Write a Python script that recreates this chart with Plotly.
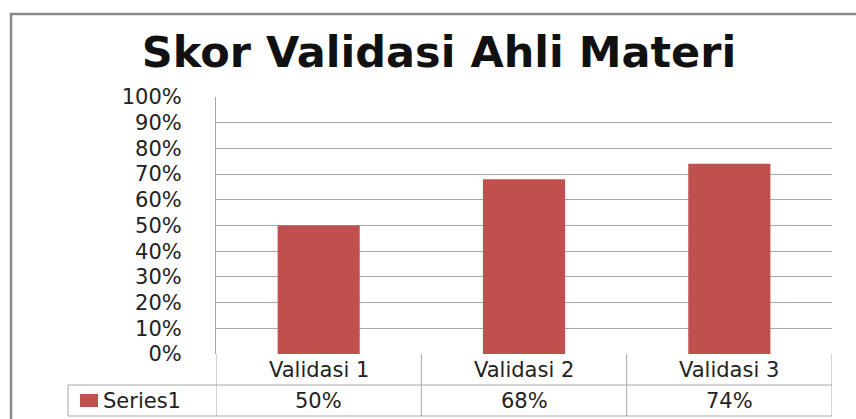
import plotly.graph_objects as go

categories = ["Validasi 1", "Validasi 2", "Validasi 3"]
values = [0.50, 0.68, 0.74]
series_name = "Series1"
title_text = "Skor Validasi Ahli Materi"
tick_vals = [i / 10 for i in range(11)]
tick_text = [f"{i * 10}%" for i in range(11)]

BAR_COLOR = "#C0504D"
GRID = "#A8A8A8"
FONT = "DejaVu Sans"

W, H = 856, 419
L, R, T, B = 216, 24, 97, 65
plot_h = H - T - B
plot_w = W - L - R

def py(pix):  # pixel y -> paper y
    return (H - B - pix) / plot_h

def px(pix):
    return (pix - L) / plot_w

fig = go.Figure()
fig.add_trace(go.Bar(x=categories, y=values, name=series_name,
                     marker=dict(color=BAR_COLOR, line=dict(width=0)),
                     width=0.4, showlegend=False, hoverinfo="skip"))

shapes = []
# outer chart border
shapes.append(dict(type="rect", xref="paper", yref="paper",
                   x0=px(11), x1=px(880), y0=py(440), y1=py(14),
                   line=dict(color="#8a8a8a", width=2.5), layer="below"))
# data table lines
row1_bot = py(385)
row2_bot = py(416)
n = len(categories)
bounds = [i - 0.5 for i in range(n + 1)]
shapes.append(dict(type="line", xref="x", yref="paper", x0=bounds[0], x1=bounds[-1],
                   y0=row1_bot, y1=row1_bot, line=dict(color=GRID, width=1)))
shapes.append(dict(type="line", xref="paper", yref="paper", x0=px(68), x1=0,
                   y0=row1_bot, y1=row1_bot, line=dict(color=GRID, width=1)))
shapes.append(dict(type="line", xref="paper", yref="paper", x0=px(68), x1=1,
                   y0=row2_bot, y1=row2_bot, line=dict(color=GRID, width=1)))
shapes.append(dict(type="line", xref="paper", yref="paper", x0=px(68), x1=px(68),
                   y0=row1_bot, y1=row2_bot, line=dict(color=GRID, width=1)))
for b in bounds:
    shapes.append(dict(type="line", xref="x", yref="paper", x0=b, x1=b,
                       y0=0, y1=row2_bot, line=dict(color=GRID, width=1)))
# legend key square
shapes.append(dict(type="rect", xref="paper", yref="paper",
                   x0=px(80), x1=px(98), y0=py(407), y1=py(394),
                   fillcolor=BAR_COLOR, line=dict(width=0)))

annotations = []
r1 = py(369.5)
r2 = py(400.5)
for c, v in zip(categories, values):
    annotations.append(dict(x=c, xref="x", y=r1, yref="paper", text=c,
                            showarrow=False, font=dict(family=FONT, size=21, color="#222"),
                            xanchor="center", yanchor="middle"))
    annotations.append(dict(x=c, xref="x", y=r2, yref="paper", text=f"{v:.0%}",
                            showarrow=False, font=dict(family=FONT, size=21, color="#222"),
                            xanchor="center", yanchor="middle"))
annotations.append(dict(x=px(101), xref="paper", y=r2, yref="paper", text=series_name,
                        showarrow=False, font=dict(family=FONT, size=21, color="#222"),
                        xanchor="left", yanchor="middle"))

fig.update_layout(
    width=W, height=H,
    margin=dict(l=L, r=R, t=T, b=B, autoexpand=False),
    paper_bgcolor="white", plot_bgcolor="white",
    title=dict(text=title_text, x=439 / W, xref="container", xanchor="center",
               y=1 - 52 / H, yref="container", yanchor="middle",
               font=dict(family=FONT, size=43, color="#111", weight="bold")),
    xaxis=dict(showticklabels=False, showgrid=False, zeroline=False,
               showline=False, ticks="", range=[-0.5, 2.5], fixedrange=True),
    yaxis=dict(range=[0, 1], tickvals=tick_vals, ticktext=tick_text,
               showgrid=True, gridcolor=GRID, gridwidth=1.3, zeroline=False,
               showline=True, linecolor=GRID, linewidth=1,
               ticks="outside", ticklen=29, tickcolor="rgba(0,0,0,0)",
               tickfont=dict(family=FONT, size=21, color="#222"), fixedrange=True),
    shapes=shapes, annotations=annotations,
    bargap=0.6,
)

fig.write_html("out.html", config={"displayModeBar": False},
               post_script="document.body.style.margin='0';document.body.style.padding='0';")
